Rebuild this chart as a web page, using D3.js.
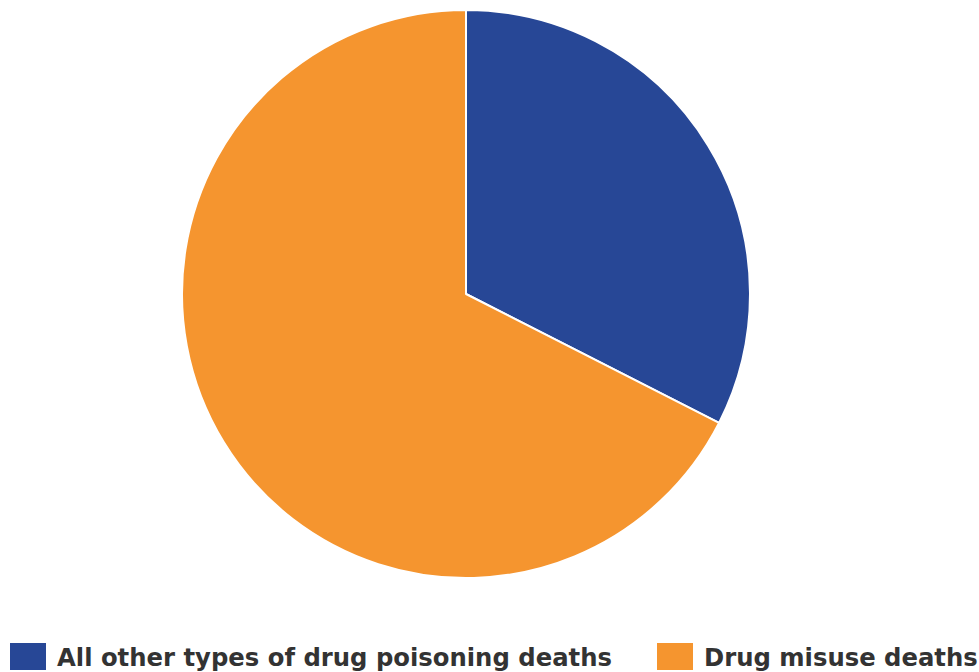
<!DOCTYPE html>
<html><head><meta charset="utf-8">
<script src="https://cdn.jsdelivr.net/npm/d3@7"></script>
<style>body{margin:0;background:#fff}svg{display:block}</style>
</head><body>
<svg id="c" width="979" height="672"></svg>
<script>
const categories = ["All other types of drug poisoning deaths", "Drug misuse deaths"];
const values = [32.5, 67.5];
const colors = ["#274796", "#F5952F"];

const svg = d3.select("#c");
const cx = 466, cy = 294, r = 284;
const pie = d3.pie().sort(null).value(d => d.v);
const arc = d3.arc().innerRadius(0).outerRadius(r);
const data = categories.map((c, i) => ({c, v: values[i], col: colors[i]}));
const g = svg.append("g").attr("transform", `translate(${cx},${cy})`);
g.selectAll("path").data(pie(data)).join("path")
  .attr("d", arc).attr("fill", d => d.data.col)
  .attr("stroke", "#fff").attr("stroke-width", 2).attr("stroke-linejoin", "round");

const leg = svg.append("g");
const xs = [10, 657];
data.forEach((d, i) => {
  leg.append("rect").attr("x", xs[i]).attr("y", 643).attr("width", 36).attr("height", 27).attr("fill", d.col);
  leg.append("text").attr("x", xs[i] + 47).attr("y", 666).text(d.c)
    .attr("font-family", "DejaVu Sans").attr("font-weight", "bold").attr("font-size", 24.3).attr("fill", "#333");
});
</script>
</body></html>
